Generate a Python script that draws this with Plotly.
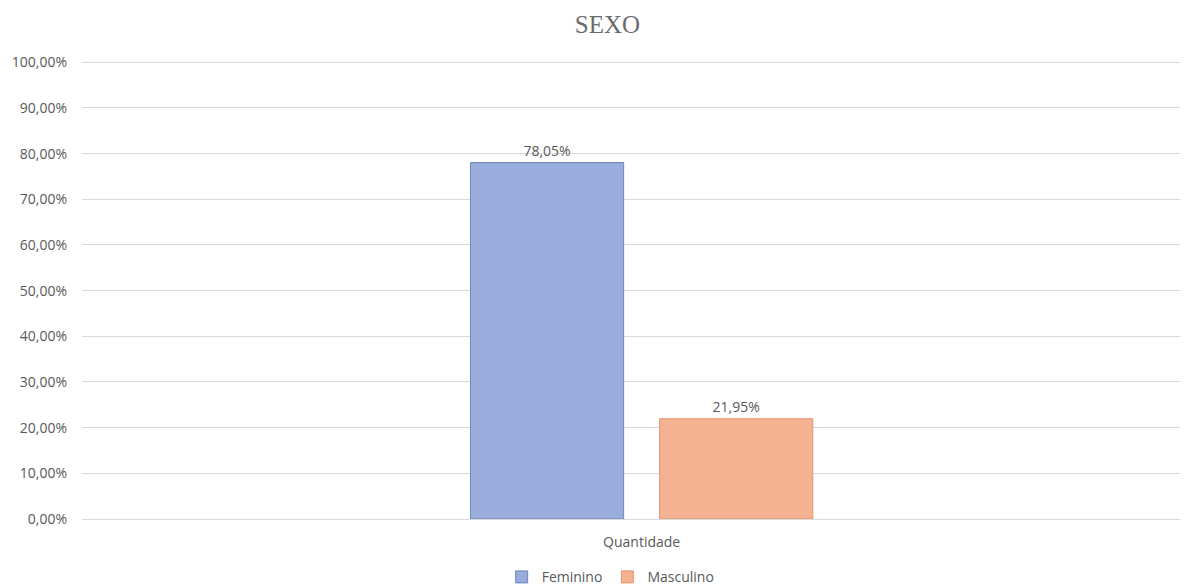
import plotly.graph_objects as go

categories = ["Quantidade"]
series_names = ["Feminino", "Masculino"]
feminino = [78.05]
masculino = [21.95]
tick_vals = [0, 10, 20, 30, 40, 50, 60, 70, 80, 90, 100]
tick_text = ["0,00%", "10,00%", "20,00%", "30,00%", "40,00%", "50,00%",
             "60,00%", "70,00%", "80,00%", "90,00%", "100,00%"]

def fmt(v):
    return f"{v:.2f}%".replace(".", ",")

font = "Open Sans, Liberation Sans, sans-serif"
fig = go.Figure()
fig.add_trace(go.Bar(
    x=categories, y=feminino, name=series_names[0],
    marker=dict(color="#99acdb", line=dict(color="#6f86bd", width=1)),
    text=[fmt(v) for v in feminino], textposition="outside",
    textfont=dict(color="#595959", size=14, family=font), cliponaxis=False,
))
fig.add_trace(go.Bar(
    x=categories, y=masculino, name=series_names[1],
    marker=dict(color="#f4b293", line=dict(color="#e2946d", width=1)),
    text=[fmt(v) for v in masculino], textposition="outside",
    textfont=dict(color="#595959", size=14, family=font), cliponaxis=False,
))
# the page body adds an 8px margin, so the figure is 8px smaller than the window
fig.update_layout(
    width=1180, height=579,
    margin=dict(l=74, r=0, t=52, b=68, autoexpand=False),
    paper_bgcolor="white", plot_bgcolor="white",
    barmode="group", bargap=0.658, bargroupgap=0.19,
    title=dict(text="SEXO", x=0.508, xanchor="center", y=0.972, yanchor="middle",
               font=dict(family="Liberation Serif, DejaVu Serif, serif", size=25, color="#6b6b6b")),
    font=dict(family=font, size=14, color="#595959"),
    legend=dict(orientation="h", x=0.478, xanchor="center", y=-0.127, yanchor="middle",
                font=dict(size=14, color="#595959"), itemwidth=30, traceorder="normal",
                tracegroupgap=0),
    xaxis=dict(range=[-0.506, 0.494], showgrid=False, showline=True, linecolor="#d9d9d9",
               tickfont=dict(size=14, color="#595959"), ticks="", ticklabelstandoff=10,
               automargin=False),
    yaxis=dict(range=[0, 100.5], tickvals=tick_vals, ticktext=tick_text, showgrid=True,
               gridcolor="#d9d9d9", zeroline=False, tickfont=dict(size=14, color="#595959"),
               ticks="", ticklabelstandoff=14, automargin=False),
)
fig.write_html("out.html")
